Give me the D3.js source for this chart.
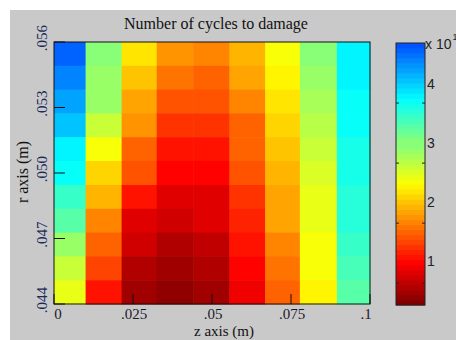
<!DOCTYPE html>
<html>
<head>
<meta charset="utf-8">
<script src="https://cdn.jsdelivr.net/npm/d3@7/dist/d3.min.js"></script>
<style>
  body { margin: 0; background: #fff; }
  svg { display: block; }
  .serif { font-family: "Liberation Serif", "Times New Roman", serif; }
  .sans { font-family: "Liberation Sans", Arial, sans-serif; }
</style>
</head>
<body>
<svg id="chart"></svg>
<script>
// z cell edges (m)
var zEdges = [0, 0.0100, 0.0214, 0.0325, 0.0441, 0.0555, 0.0668, 0.0778, 0.0895, 0.1];
// r cell edges (m), 11 equal rows
var rEdges = [0.044, 0.04509, 0.04618, 0.04727, 0.04836, 0.04945, 0.05055, 0.05164, 0.05273, 0.05382, 0.05491, 0.056];

// cycles to damage (x 10^1), one list per z column, from r = .056 (top) down to r = .044
var col1 = [4.59, 4.42, 4.20, 4.03, 3.75, 3.70, 3.42, 3.25, 2.92, 2.64, 2.42];
var col2 = [3.03, 2.92, 2.86, 2.59, 2.34, 2.14, 1.97, 1.70, 1.53, 1.31, 1.03];
var col3 = [2.20, 2.03, 1.86, 1.75, 1.53, 1.36, 1.08, 0.81, 0.70, 0.53, 0.42];
var col4 = [1.75, 1.59, 1.42, 1.25, 1.08, 0.97, 0.81, 0.70, 0.53, 0.42, 0.31];
var col5 = [1.70, 1.53, 1.36, 1.20, 1.03, 0.97, 0.81, 0.75, 0.64, 0.53, 0.47];
var col6 = [1.92, 1.81, 1.64, 1.53, 1.47, 1.36, 1.25, 1.14, 1.03, 0.92, 0.86];
var col7 = [2.34, 2.25, 2.20, 2.14, 2.03, 1.97, 1.86, 1.81, 1.70, 1.59, 1.47];
var col8 = [3.03, 2.92, 2.81, 2.70, 2.64, 2.53, 2.48, 2.42, 2.36, 2.34, 2.31];
var col9 = [3.75, 3.75, 3.73, 3.70, 3.64, 3.59, 3.53, 3.48, 3.42, 3.31, 3.25];
var columns = [col1, col2, col3, col4, col5, col6, col7, col8, col9];

var xTicks = [0, 0.025, 0.05, 0.075, 0.1];
var xTickLabels = ["0", ".025", ".05", ".075", ".1"];
var yTicks = [0.044, 0.047, 0.050, 0.053, 0.056];
var yTickLabels = [".044", ".047", ".050", ".053", ".056"];

// colorbar
var cbDomain = [0.25, 4.7];
var cbTicks = [1, 2, 3, 4];
var cbTickLabels = ["1", "2", "3", "4"];
var cbTickMarks = [0.62, 1.64, 2.66, 3.68]; // the little marks don't line up with the labels in the original

var width = 456, height = 340;
var svg = d3.select('#chart').attr('width', width).attr('height', height);

svg.append('rect').attr('width', width).attr('height', height).attr('fill', '#fff');
svg.append('rect').attr('x', 10).attr('y', 10)
    .attr('width', width - 10).attr('height', height - 10)
    .attr('fill', '#c9c9c9');

var x = d3.scaleLinear().domain([0, 0.1]).range([54, 370]);
var y = d3.scaleLinear().domain([0.044, 0.056]).range([304, 42]);

// jet, flipped so low values are dark red
function jet(p) {
    var c = function(v) { return Math.max(0, Math.min(1, v)); };
    var r = c(Math.min(4 * p - 1.5, -4 * p + 4.5));
    var g = c(Math.min(4 * p - 0.5, -4 * p + 3.5));
    var b = c(Math.min(4 * p + 0.5, -4 * p + 2.5));
    return d3.rgb(r * 255, g * 255, b * 255);
}
var pos = d3.scaleLinear().domain(cbDomain).range([1, 0.2]).clamp(true);
function color(v) {
    // 64 level map like matlab
    var p = Math.round(pos(v) * 63) / 63;
    return jet(p);
}

// cells
var cells = [];
columns.forEach(function(col, i) {
    col.forEach(function(v, j) {
        var k = rEdges.length - 2 - j; // j=0 is top row
        cells.push({z0: zEdges[i], z1: zEdges[i + 1], r0: rEdges[k], r1: rEdges[k + 1], v: v});
    });
});

svg.append('g').selectAll('rect')
    .data(cells)
    .enter().append('rect')
    .attr('x', function(d) { return x(d.z0); })
    .attr('y', function(d) { return y(d.r1); })
    .attr('width', function(d) { return x(d.z1) - x(d.z0) + 0.5; })
    .attr('height', function(d) { return y(d.r0) - y(d.r1) + 0.5; })
    .attr('fill', function(d) { return color(d.v); });

// axes box + inward ticks
var axG = svg.append('g').attr('stroke', '#111').attr('fill', 'none');
axG.append('rect')
    .attr('x', x(0)).attr('y', y(0.056))
    .attr('width', x(0.1) - x(0)).attr('height', y(0.044) - y(0.056));
axG.selectAll('.xt').data(xTicks).enter().append('line')
    .attr('x1', function(d) { return x(d); }).attr('x2', function(d) { return x(d); })
    .attr('y1', y(0.044)).attr('y2', y(0.044) - 10);
axG.selectAll('.yt').data(yTicks).enter().append('line')
    .attr('y1', function(d) { return y(d); }).attr('y2', function(d) { return y(d); })
    .attr('x1', x(0)).attr('x2', x(0) + 11);

svg.append('g').attr('class', 'serif')
    .selectAll('text').data(xTicks).enter().append('text')
    .attr('x', function(d, i) { return x(d) + (i === 0 ? 4 : (i === xTicks.length - 1 ? -4 : 1)); })
    .attr('y', 319)
    .attr('text-anchor', 'middle')
    .attr('font-size', 15)
    .attr('fill', '#1b1b2b')
    .text(function(d, i) { return xTickLabels[i]; });

svg.append('g').attr('class', 'serif')
    .selectAll('text').data(yTicks).enter().append('text')
    .attr('transform', function(d) { return 'translate(47,' + (y(d) - 4) + ') rotate(-90)'; })
    .attr('text-anchor', 'middle')
    .attr('font-size', 15)
    .attr('fill', '#1c2a5a')
    .text(function(d, i) { return yTickLabels[i]; });

svg.append('text').attr('class', 'serif')
    .attr('x', 216).attr('y', 29)
    .attr('text-anchor', 'middle').attr('font-size', 16).attr('fill', '#111')
    .text('Number of cycles to damage');

svg.append('text').attr('class', 'serif')
    .attr('x', 224).attr('y', 336)
    .attr('text-anchor', 'middle').attr('font-size', 15).attr('fill', '#111')
    .text('z axis (m)');

svg.append('text').attr('class', 'serif')
    .attr('transform', 'translate(28,172) rotate(-90)')
    .attr('text-anchor', 'middle').attr('font-size', 16).attr('fill', '#111')
    .text('r axis (m)');

// colorbar
var cbX = 396, cbW = 29;
var cbY = d3.scaleLinear().domain(cbDomain).range([305, 43]);
var steps = d3.range(52).map(function(i) {
    var a = cbDomain[0] + (cbDomain[1] - cbDomain[0]) * i / 52;
    var b = cbDomain[0] + (cbDomain[1] - cbDomain[0]) * (i + 1) / 52;
    return {a: a, b: b};
});
svg.append('g').selectAll('rect').data(steps).enter().append('rect')
    .attr('x', cbX).attr('width', cbW)
    .attr('y', function(d) { return cbY(d.b); })
    .attr('height', function(d) { return cbY(d.a) - cbY(d.b) + 0.5; })
    .attr('fill', function(d) { return color((d.a + d.b) / 2); });
svg.append('rect')
    .attr('x', cbX).attr('y', cbY(cbDomain[1]))
    .attr('width', cbW).attr('height', cbY(cbDomain[0]) - cbY(cbDomain[1]))
    .attr('fill', 'none').attr('stroke', '#222');
var cbT = svg.append('g').attr('stroke', '#222');
cbTickMarks.forEach(function(v) {
    cbT.append('line').attr('x1', cbX).attr('x2', cbX + 3).attr('y1', cbY(v)).attr('y2', cbY(v));
    cbT.append('line').attr('x1', cbX + cbW).attr('x2', cbX + cbW - 3).attr('y1', cbY(v)).attr('y2', cbY(v));
});
svg.append('g').attr('class', 'sans')
    .selectAll('text').data(cbTicks).enter().append('text')
    .attr('x', cbX + cbW + 2)
    .attr('y', function(d) { return cbY(d) + 5; })
    .attr('font-size', 14).attr('fill', '#222')
    .text(function(d, i) { return cbTickLabels[i]; });
var exp = svg.append('text').attr('class', 'sans')
    .attr('x', cbX + cbW).attr('y', 49)
    .attr('font-size', 14).attr('fill', '#222');
exp.append('tspan').text('x 10');
exp.append('tspan').attr('font-size', 9).attr('dy', -9).attr('dx', 1).text('1');
</script>
</body>
</html>
